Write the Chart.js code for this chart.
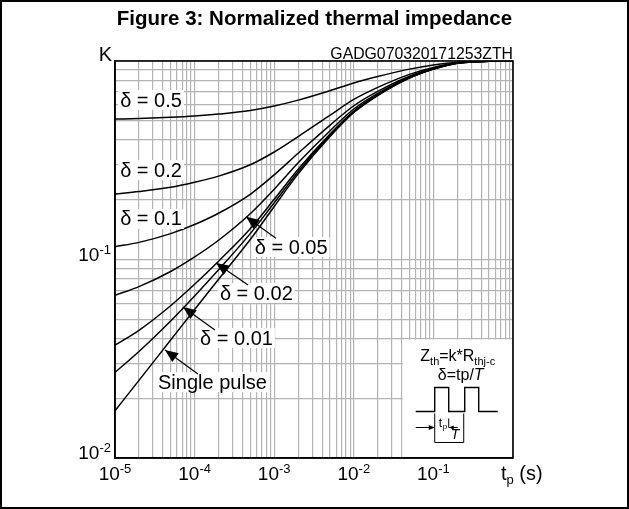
<!DOCTYPE html>
<html>
<head>
<meta charset="utf-8">
<script src="https://cdn.jsdelivr.net/npm/chart.js@4.4.1/dist/chart.umd.min.js"></script>
<style>
    body { margin: 0; background: #fff; }
    canvas { display: block; }
</style>
</head>
<body>
<canvas id="myChart" width="629" height="509"></canvas>
<script>
// pulse width tp (s) and normalized thermal impedance K
const tp      = [1e-5, 2e-5, 5e-5, 1e-4, 2e-4, 5e-4, 1e-3, 2e-3, 5e-3, 1e-2, 2e-2, 5e-2, 0.1, 0.2, 0.5, 1]
const kD05    = [0.51, 0.513, 0.52, 0.528, 0.54, 0.563, 0.593, 0.635, 0.708, 0.775, 0.835, 0.91, 0.955, 0.987, 0.998, 1]
const kD02    = [0.214, 0.22, 0.231, 0.245, 0.263, 0.30, 0.348, 0.416, 0.532, 0.64, 0.736, 0.856, 0.928, 0.98, 0.998, 1]
const kD01    = [0.116, 0.122, 0.135, 0.15, 0.171, 0.213, 0.267, 0.343, 0.474, 0.595, 0.703, 0.838, 0.919, 0.978, 0.997, 1]
const kD005   = [0.066, 0.073, 0.087, 0.103, 0.125, 0.17, 0.226, 0.307, 0.444, 0.573, 0.687, 0.829, 0.915, 0.976, 0.997, 1]
const kD002   = [0.037, 0.044, 0.0585, 0.075, 0.098, 0.143, 0.201, 0.285, 0.427, 0.559, 0.677, 0.824, 0.912, 0.976, 0.997, 1]
const kD001   = [0.027, 0.0344, 0.049, 0.0655, 0.0887, 0.135, 0.193, 0.277, 0.421, 0.555, 0.673, 0.822, 0.911, 0.975, 0.997, 1]
const kSingle = [0.0173, 0.0246, 0.0393, 0.056, 0.0795, 0.126, 0.185, 0.27, 0.415, 0.55, 0.67, 0.82, 0.91, 0.975, 0.997, 1]

const seriesNames = ['δ = 0.5', 'δ = 0.2', 'δ = 0.1', 'δ = 0.05', 'δ = 0.02', 'δ = 0.01', 'Single pulse']
const seriesValues = [kD05, kD02, kD01, kD005, kD002, kD001, kSingle]

// tick labels
const xTickValues = [1e-5, 1e-4, 1e-3, 1e-2, 1e-1]
const xTickExp = ['-5', '-4', '-3', '-2', '-1']
const yTickValues = [1e-1, 1e-2]
const yTickExp = ['-1', '-2']

const titleText = 'Figure 3: Normalized thermal impedance'
const codeText = 'GADG070320171253ZTH'

// where the curve names sit (data coords) and where their arrows point
const noteAt = [
    { t: 1.16e-5, k: 0.636 },
    { t: 1.16e-5, k: 0.282 },
    { t: 1.16e-5, k: 0.16 },
    { t: 5.7e-4, k: 0.1156, tip: [4.43e-4, 0.164], tail: [1.05e-3, 0.128] },
    { t: 2.08e-4, k: 0.0678, tip: [1.86e-4, 0.096], tail: [4.69e-4, 0.0744] },
    { t: 1.17e-4, k: 0.0402, tip: [7.15e-5, 0.0576], tail: [1.8e-4, 0.0441] },
    { t: 3.47e-5, k: 0.0241, tip: [4.25e-5, 0.035], tail: [1.1e-4, 0.0265] }
]

const FONT = 'Arial, "Liberation Sans", Helvetica, sans-serif'

const gridValues = (lo, hi) => {
    let vals = []
    for (let e = lo; e < hi; e++) {
        for (let m = 1; m < 10; m++) vals.push(m * Math.pow(10, e))
    }
    vals.push(Math.pow(10, hi))
    return vals
}

const drawPow = (ctx, exp, x, y, align) => {
    ctx.font = '19px ' + FONT
    const wb = ctx.measureText('10').width
    ctx.font = '13px ' + FONT
    const we = ctx.measureText(exp).width
    let left = x
    if (align === 'center') left = x - (wb + we) / 2
    if (align === 'right') left = x - wb - we
    ctx.textAlign = 'left'
    ctx.textBaseline = 'alphabetic'
    ctx.font = '19px ' + FONT
    ctx.fillText('10', left, y)
    ctx.font = '13px ' + FONT
    ctx.fillText(exp, left + wb, y - 7)
}

const drawArrow = (ctx, x1, y1, x2, y2, len, half) => {
    ctx.beginPath()
    ctx.moveTo(x1, y1)
    ctx.lineTo(x2, y2)
    ctx.stroke()
    const a = Math.atan2(y2 - y1, x2 - x1)
    ctx.beginPath()
    ctx.moveTo(x2, y2)
    ctx.lineTo(x2 - len * Math.cos(a) + half * Math.sin(a), y2 - len * Math.sin(a) - half * Math.cos(a))
    ctx.lineTo(x2 - len * Math.cos(a) - half * Math.sin(a), y2 - len * Math.sin(a) + half * Math.cos(a))
    ctx.closePath()
    ctx.fill()
}

const figurePlugin = {
    id: 'figure',
    beforeDraw: (chart) => {
        const ctx = chart.ctx
        ctx.save()
        ctx.fillStyle = '#fff'
        ctx.fillRect(0, 0, chart.width, chart.height)
        ctx.restore()
    },
    afterDraw: (chart) => {
        const ctx = chart.ctx
        const xs = chart.scales.x
        const ys = chart.scales.y
        const area = chart.chartArea
        ctx.save()
        ctx.fillStyle = '#000'
        ctx.strokeStyle = '#000'

        // inset box with the formula and pulse sketch
        const bx = xs.getPixelForValue(0.04)
        const by = ys.getPixelForValue(0.04)
        ctx.fillStyle = '#fff'
        ctx.fillRect(bx + 1, by + 1, area.right - bx - 2, area.bottom - by - 2)
        ctx.fillStyle = '#000'
        const cx = bx + 56
        ctx.textBaseline = 'alphabetic'
        ctx.textAlign = 'left'
        const parts = [['Z', 16, 0], ['th', 11, 4], ['=k*R', 16, 0], ['thj-c', 11, 4]]
        let total = 0
        parts.forEach(p => { ctx.font = p[1] + 'px ' + FONT; total += ctx.measureText(p[0]).width })
        let px = cx - total / 2
        parts.forEach(p => {
            ctx.font = p[1] + 'px ' + FONT
            ctx.fillText(p[0], px, by + 23 + p[2])
            px += ctx.measureText(p[0]).width
        })
        ctx.font = '16px ' + FONT
        const d1 = 'δ=tp/'
        const w1 = ctx.measureText(d1).width
        ctx.font = 'italic 16px ' + FONT
        const w2 = ctx.measureText('T').width
        px = cx + 3 - (w1 + w2) / 2
        ctx.font = '16px ' + FONT
        ctx.fillText(d1, px, by + 42)
        ctx.font = 'italic 16px ' + FONT
        ctx.fillText('T', px + w1, by + 42)

        ctx.lineWidth = 1.4
        const base = by + 73
        const top = by + 49
        const x0 = bx + 14
        ctx.beginPath()
        ctx.moveTo(x0, base)
        ctx.lineTo(x0 + 19, base)
        ctx.lineTo(x0 + 19, top)
        ctx.lineTo(x0 + 33, top)
        ctx.lineTo(x0 + 33, base)
        ctx.lineTo(x0 + 49, base)
        ctx.lineTo(x0 + 49, top)
        ctx.lineTo(x0 + 63, top)
        ctx.lineTo(x0 + 63, base)
        ctx.lineTo(x0 + 82, base)
        ctx.stroke()
        ctx.lineWidth = 1
        ctx.beginPath()
        ctx.moveTo(x0 + 19, base + 2)
        ctx.lineTo(x0 + 19, base + 31)
        ctx.lineTo(x0 + 48, base + 31)
        ctx.lineTo(x0 + 48, base + 2)
        ctx.moveTo(x0 + 33, base + 7)
        ctx.lineTo(x0 + 33, base + 16)
        ctx.stroke()
        drawArrow(ctx, x0, base + 16, x0 + 19, base + 16, 6, 2.5)
        drawArrow(ctx, x0 + 42, base + 16, x0 + 33, base + 16, 5, 2)
        ctx.font = '12px ' + FONT
        ctx.fillText('t', x0 + 23, base + 16)
        ctx.font = '8px ' + FONT
        ctx.fillText('p', x0 + 27, base + 18)
        ctx.font = 'italic 14px ' + FONT
        ctx.fillText('T', x0 + 35, base + 28)

        // plot frame (top and right edges)
        ctx.lineWidth = 1.6
        ctx.strokeRect(area.left, area.top, area.right - area.left, area.bottom - area.top)

        // curve names with white backing, plus arrows
        ctx.font = '20px ' + FONT
        ctx.textBaseline = 'middle'
        seriesNames.forEach((name, i) => {
            const n = noteAt[i]
            const lx = xs.getPixelForValue(n.t)
            const ly = ys.getPixelForValue(n.k)
            const w = ctx.measureText(name).width
            ctx.fillStyle = '#fff'
            ctx.fillRect(lx - 2, ly - 10, w + 4, 20)
            ctx.fillStyle = '#000'
            ctx.fillText(name, lx, ly + 1)
            if (n.tip) {
                ctx.lineWidth = 1.2
                drawArrow(ctx, xs.getPixelForValue(n.tail[0]), ys.getPixelForValue(n.tail[1]),
                    xs.getPixelForValue(n.tip[0]), ys.getPixelForValue(n.tip[1]), 13, 5.5)
            }
        })

        // axis labels
        ctx.fillStyle = '#000'
        xTickValues.forEach((v, i) => drawPow(ctx, xTickExp[i], xs.getPixelForValue(v), area.bottom + 22, 'center'))
        yTickValues.forEach((v, i) => drawPow(ctx, yTickExp[i], area.left - 4, ys.getPixelForValue(v) + 1, 'right'))
        ctx.textAlign = 'right'
        ctx.textBaseline = 'alphabetic'
        ctx.font = '20px ' + FONT
        ctx.fillText('K', area.left - 3, area.top)
        const ux = xs.getPixelForValue(1) - 12
        ctx.textAlign = 'left'
        ctx.fillText('t', ux, area.bottom + 22)
        const wt = ctx.measureText('t').width
        ctx.font = '13px ' + FONT
        ctx.fillText('p', ux + wt, area.bottom + 26)
        const wp = ctx.measureText('p').width
        ctx.font = '20px ' + FONT
        ctx.fillText(' (s)', ux + wt + wp, area.bottom + 22)

        ctx.font = '15.8px ' + FONT
        ctx.textAlign = 'right'
        ctx.fillText(codeText, area.right, area.top - 2)

        // title and outer frame
        ctx.font = 'bold 20.5px ' + FONT
        ctx.textAlign = 'center'
        ctx.fillText(titleText, chart.width / 2, 25)
        ctx.lineWidth = 2
        ctx.strokeRect(1, 1, chart.width - 2, chart.height - 2)
        ctx.restore()
    }
}

let ctx = document.getElementById('myChart').getContext('2d')
let myChart = new Chart(ctx, {
    type: 'line',
    data: {
        datasets: seriesValues.map((vals, i) => ({
            label: seriesNames[i],
            data: tp.map((t, j) => ({ x: t, y: vals[j] })),
            borderColor: '#000',
            borderWidth: 1.5,
            pointRadius: 0,
            fill: false,
            cubicInterpolationMode: 'monotone'
        }))
    },
    options: {
        responsive: false,
        animation: false,
        devicePixelRatio: 1,
        layout: { padding: { left: 115, right: 116, top: 61, bottom: 51 } },
        plugins: { legend: false, tooltip: { enabled: false } },
        scales: {
            x: {
                type: 'logarithmic',
                min: 1e-5,
                max: 1,
                border: { display: true, color: '#000', width: 1.6 },
                grid: { color: '#b4b4b4', lineWidth: 1.2, drawTicks: false },
                ticks: { display: false },
                afterBuildTicks: (scale) => { scale.ticks = gridValues(-5, 0).map(v => ({ value: v })) }
            },
            y: {
                type: 'logarithmic',
                min: 0.01,
                max: 1,
                border: { display: true, color: '#000', width: 1.6 },
                grid: { color: '#b4b4b4', lineWidth: 1.2, drawTicks: false },
                ticks: { display: false },
                afterBuildTicks: (scale) => { scale.ticks = gridValues(-2, 0).map(v => ({ value: v })) }
            }
        }
    },
    plugins: [figurePlugin]
})
</script>
</body>
</html>
